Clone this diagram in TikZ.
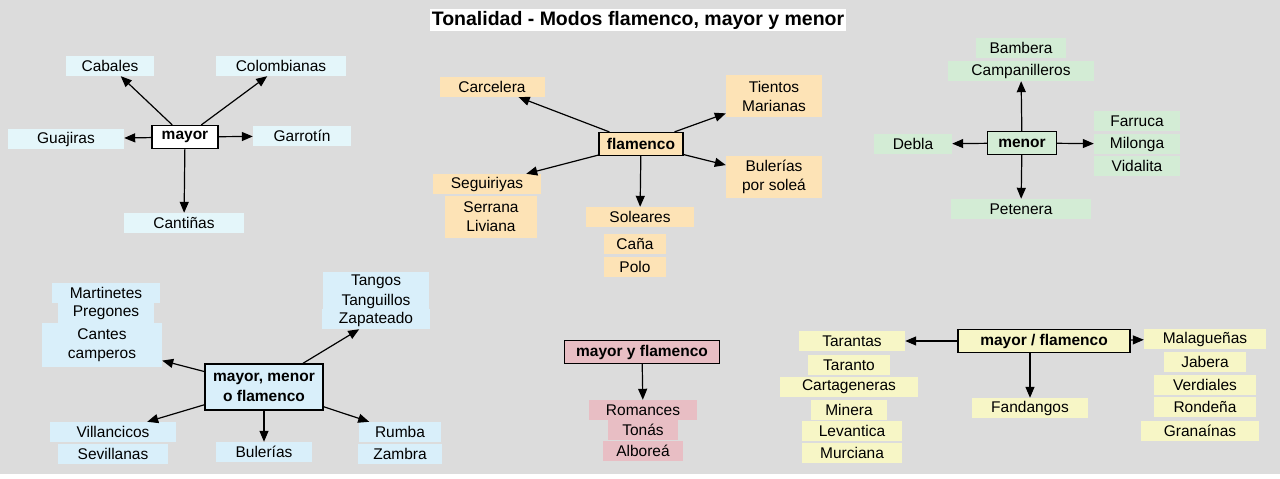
\documentclass[tikz,border=0pt]{standalone}
\usepackage{fontspec}
\setmainfont{Liberation Sans}
\usetikzlibrary{arrows.meta}
\definecolor{bgGray}{HTML}{DCDCDC}
\definecolor{leafCyan}{HTML}{E4F6FA}
\definecolor{leafOrange}{HTML}{FDE3B6}
\definecolor{leafGreen}{HTML}{D3ECD5}
\definecolor{leafPink}{HTML}{E8BEC4}
\definecolor{leafYellow}{HTML}{F7F6C6}
\definecolor{leafBlue}{HTML}{D9EFFA}
\tikzset{
    leaf/.style={
        fill=#1,
        minimum height=20pt,
        inner sep=1pt,
        align=center,
        font=\fontsize{15.5}{19}\selectfont
    },
    hub/.style={
        draw,
        fill=#1,
        line width=1.2pt,
        minimum height=23pt,
        inner xsep=8pt,
        inner ysep=3pt,
        align=center,
        font=\bfseries\fontsize{15.5}{20}\selectfont
    },
    link/.style={
        draw,
        -{Stealth[length=11pt, width=9pt, inset=0pt]},
        line width=1.2pt
    }
}

\begin{document}
\begin{tikzpicture}[x=1pt, y=-1pt]
  % Background
  \fill[white] (0,0) rectangle (1280,479);
  \fill[bgGray] (0,0) rectangle (1280,474);
  \useasboundingbox (0,0) rectangle (1280,479);

  % Title
  \node[fill=white, inner sep=2pt, font=\bfseries\fontsize{19.5}{22}\selectfont] (title) at (638,20) {Tonalidad - Modos flamenco, mayor y menor};

  % mayor
  \node[hub=white, minimum width=66pt] (mayor) at (185,137) {mayor};
  \node[leaf=leafCyan, minimum width=88pt] (cabales) at (110,66) {Cabales};
  \node[leaf=leafCyan, minimum width=130pt] (colomb) at (281,66) {Colombianas};
  \node[leaf=leafCyan, minimum width=116pt] (guajiras) at (66,139) {Guajiras};
  \node[leaf=leafCyan, minimum width=98pt] (garrotin) at (302,136) {Garrotín};
  \node[leaf=leafCyan, minimum width=120pt] (cantinas) at (184,223) {Cantiñas};
  \draw[link] (mayor) -- (cabales);
  \draw[link] (mayor) -- (colomb);
  \draw[link] (mayor) -- (guajiras);
  \draw[link] (mayor) -- (garrotin);
  \draw[link] (mayor) -- (cantinas);

  % flamenco
  \node[hub=leafOrange, minimum width=82pt] (flamenco) at (641,144) {flamenco};
  \node[leaf=leafOrange, minimum width=105pt] (carcelera) at (492,87) {Carcelera};
  \node[leaf=leafOrange, minimum width=96pt, minimum height=42pt] (tientos) at (774,96) {Tientos\\Marianas};
  \node[leaf=leafOrange, minimum width=108pt] (seguiriyas) at (487,184) {Seguiriyas};
  \node[leaf=leafOrange, minimum width=92pt, minimum height=42pt] (serrana) at (491,217) {Serrana\\Liviana};
  \node[leaf=leafOrange, minimum width=108pt] (soleares) at (640,217) {Soleares};
  \node[leaf=leafOrange, minimum width=62pt] (cana) at (635,244) {Caña};
  \node[leaf=leafOrange, minimum width=62pt] (polo) at (635,267) {Polo};
  \node[leaf=leafOrange, minimum width=96pt, minimum height=42pt] (bulsolea) at (774,177) {Bulerías\\por soleá};
  \draw[link] (flamenco) -- (carcelera);
  \draw[link] (flamenco) -- (tientos);
  \draw[link] (flamenco) -- (seguiriyas);
  \draw[link] (flamenco) -- (soleares);
  \draw[link] (flamenco) -- (bulsolea);

  % menor
  \node[hub=leafGreen, minimum width=69pt] (menor) at (1022,143) {menor};
  \node[leaf=leafGreen, minimum width=90pt] (bambera) at (1021,48) {Bambera};
  \node[leaf=leafGreen, minimum width=146pt] (campan) at (1021,71) {Campanilleros};
  \node[leaf=leafGreen, minimum width=78pt] (debla) at (913,144) {Debla};
  \node[leaf=leafGreen, minimum width=86pt] (farruca) at (1137,121) {Farruca};
  \node[leaf=leafGreen, minimum width=86pt] (milonga) at (1137,144) {Milonga};
  \node[leaf=leafGreen, minimum width=86pt] (vidalita) at (1137,166) {Vidalita};
  \node[leaf=leafGreen, minimum width=140pt] (petenera) at (1021,209) {Petenera};
  \draw[link] (menor) -- (campan);
  \draw[link] (menor) -- (debla);
  \draw[link] (menor) -- (milonga);
  \draw[link] (menor) -- (petenera);

  % mayor, menor o flamenco
  \node[hub=leafBlue, minimum width=118pt, minimum height=46pt] (mmf) at (264,387) {mayor, menor\\o flamenco};
  \node[leaf=leafBlue, minimum width=108pt] (martinetes) at (106,293) {Martinetes};
  \node[leaf=leafBlue, minimum width=96pt] (pregones) at (106,313) {Pregones};
  \node[leaf=leafBlue, minimum width=120pt, minimum height=44pt] (camperos) at (102,345) {Cantes\\camperos};
  \node[leaf=leafBlue, minimum width=106pt] (tangos) at (376,282) {Tangos};
  \node[leaf=leafBlue, minimum width=106pt] (tanguillos) at (376,301) {Tanguillos};
  \node[leaf=leafBlue, minimum width=108pt] (zapateado) at (376,319) {Zapateado};
  \node[leaf=leafBlue, minimum width=126pt] (villanc) at (113,432) {Villancicos};
  \node[leaf=leafBlue, minimum width=110pt] (sevill) at (113,454) {Sevillanas};
  \node[leaf=leafBlue, minimum width=96pt] (bulerias) at (264,452) {Bulerías};
  \node[leaf=leafBlue, minimum width=82pt] (rumba) at (400,432) {Rumba};
  \node[leaf=leafBlue, minimum width=84pt] (zambra) at (400,454) {Zambra};
  \draw[link] (mmf) -- (camperos);
  \draw[link] (mmf) -- (zapateado);
  \draw[link] (mmf) -- (villanc);
  \draw[link] (mmf) -- (bulerias);
  \draw[link] (mmf) -- (rumba);

  % mayor y flamenco
  \node[hub=leafPink, minimum width=155pt] (myf) at (642,352) {mayor y flamenco};
  \node[leaf=leafPink, minimum width=108pt] (romances) at (643,410) {Romances};
  \node[leaf=leafPink, minimum width=70pt] (tonas) at (643,430) {Tonás};
  \node[leaf=leafPink, minimum width=80pt] (alborea) at (643,451) {Alboreá};
  \draw[link] (myf) -- (romances);

  % mayor / flamenco
  \node[hub=leafYellow, minimum width=172pt] (mf) at (1044,341) {mayor / flamenco};
  \node[leaf=leafYellow, minimum width=106pt] (tarantas) at (852,341) {Tarantas};
  \node[leaf=leafYellow, minimum width=82pt] (taranto) at (849,365) {Taranto};
  \node[leaf=leafYellow, minimum width=138pt] (cartag) at (849,387) {Cartageneras};
  \node[leaf=leafYellow, minimum width=76pt] (minera) at (849,410) {Minera};
  \node[leaf=leafYellow, minimum width=100pt] (levantica) at (852,431) {Levantica};
  \node[leaf=leafYellow, minimum width=100pt] (murciana) at (852,453) {Murciana};
  \node[leaf=leafYellow, minimum width=116pt] (fandangos) at (1030,408) {Fandangos};
  \node[leaf=leafYellow, minimum width=122pt] (malag) at (1205,339) {Malagueñas};
  \node[leaf=leafYellow, minimum width=82pt] (jabera) at (1205,362) {Jabera};
  \node[leaf=leafYellow, minimum width=102pt] (verdiales) at (1205,385) {Verdiales};
  \node[leaf=leafYellow, minimum width=102pt] (rondena) at (1205,407) {Rondeña};
  \node[leaf=leafYellow, minimum width=118pt] (granainas) at (1200,431) {Granaínas};
  \draw[link] (mf) -- (tarantas);
  \draw[link] (mf.south -| fandangos) -- (fandangos);
  \draw[link] (mf) -- (malag);
\end{tikzpicture}
\end{document}
